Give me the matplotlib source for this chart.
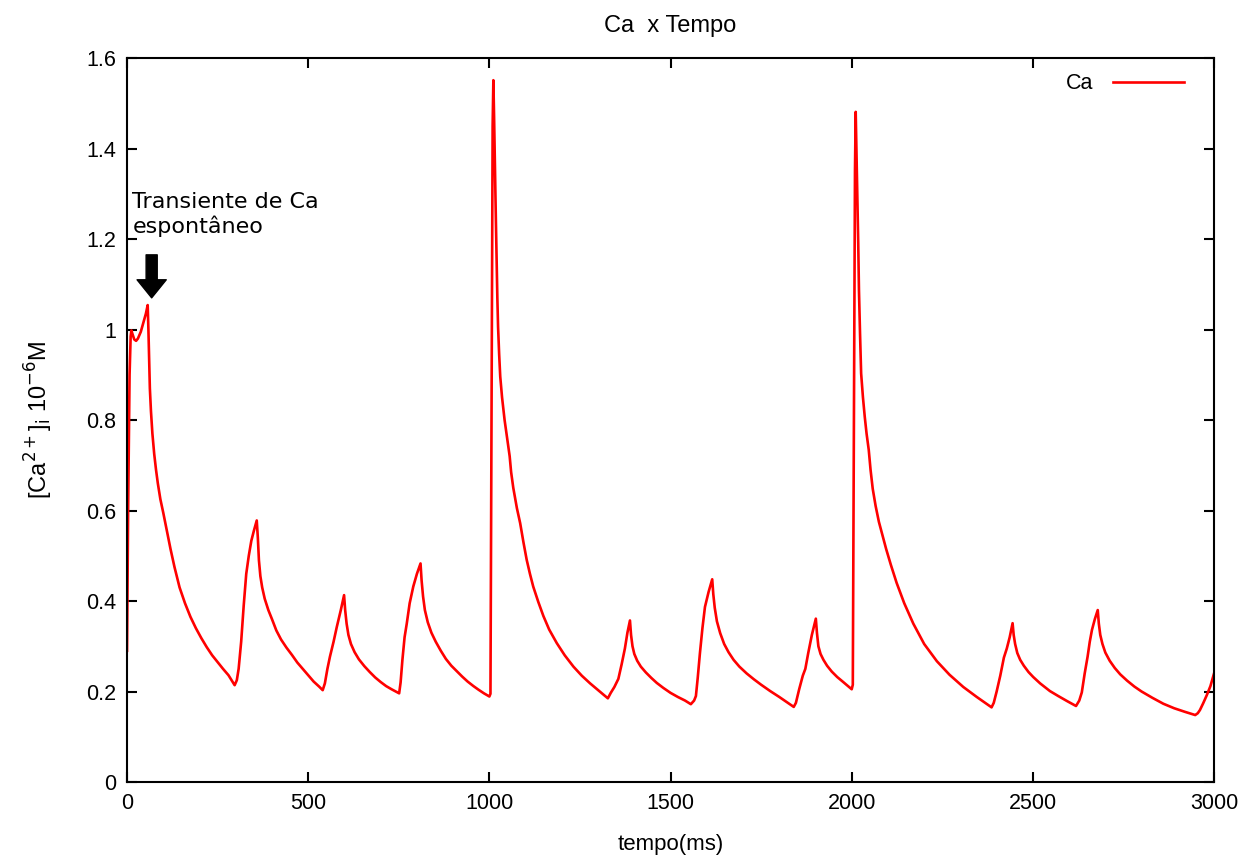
import numpy as np
import matplotlib.pyplot as plt
from matplotlib.ticker import FuncFormatter

# Ca transient (time in ms, [Ca2+]i in 10^-6 M)
tempo = [
    0, 3, 7, 10, 12, 15, 20, 25, 30, 38, 45, 52, 57,
    59, 61, 63, 66, 70, 75, 80, 85, 92, 100, 110, 120, 131, 145, 160, 175,
    190, 205, 220, 235, 250, 265, 280, 297,
    303, 308, 315, 322, 329, 336, 343, 350, 358,
    361, 364, 368, 373, 380, 390, 400, 412, 425, 440, 455, 470, 485, 500,
    515, 530, 540,
    546, 553, 560, 570, 579, 590, 599,
    602, 606, 611, 618, 628, 640, 655, 670, 685, 700, 715, 730, 751,
    755, 760, 766, 772, 780, 790, 800, 810,
    813, 817, 822, 830, 840, 852, 866, 880, 895, 910, 925, 940, 956, 970,
    985, 1000,
    1003, 1006, 1009, 1011, 1013, 1015, 1018, 1020, 1022, 1024, 1027, 1030,
    1035, 1042, 1050, 1056, 1060, 1066, 1076, 1085, 1094, 1103, 1112, 1121,
    1135, 1149, 1165, 1186, 1208, 1232, 1255, 1278, 1300, 1315, 1327,
    1335, 1345, 1356, 1365, 1374, 1381, 1388,
    1391, 1395, 1400, 1408, 1418, 1432, 1447, 1462, 1480, 1500, 1520, 1540,
    1556,
    1565, 1570, 1575, 1581, 1588, 1595, 1605, 1615,
    1618, 1622, 1628, 1637, 1648, 1660, 1674, 1690, 1710, 1730, 1750, 1775,
    1800, 1820, 1840,
    1846, 1855, 1865, 1872, 1880, 1890, 1901,
    1904, 1908, 1914, 1922, 1932, 1945, 1960, 1975, 1988, 2000,
    2003, 2006, 2009, 2011, 2013, 2015, 2018, 2020, 2023, 2026, 2031, 2036,
    2041, 2047, 2052, 2058, 2066, 2075, 2085, 2095, 2108, 2124, 2145, 2170,
    2200, 2235, 2270, 2308, 2345, 2386,
    2392, 2400, 2410, 2420, 2428, 2436, 2444,
    2447, 2451, 2457, 2465, 2475, 2488, 2501, 2520, 2547, 2570, 2594, 2619,
    2628, 2635, 2643, 2651, 2657, 2663, 2671, 2679,
    2682, 2686, 2692, 2700, 2712, 2726, 2741, 2760, 2780, 2800, 2830, 2860,
    2890, 2920, 2948,
    2955, 2961, 2970, 2980, 2990, 3000,
]
ca = [
    0.29, 0.60, 0.90, 0.985, 0.998, 0.99, 0.978, 0.975, 0.98, 0.995, 1.015,
    1.035, 1.054,
    1.00, 0.93, 0.87, 0.82, 0.77, 0.725, 0.69, 0.66, 0.625, 0.595, 0.555,
    0.515, 0.475, 0.43, 0.395, 0.365, 0.34, 0.318, 0.298, 0.28, 0.265, 0.25,
    0.236, 0.214,
    0.225, 0.25, 0.31, 0.39, 0.46, 0.50, 0.533, 0.555, 0.578,
    0.54, 0.49, 0.455, 0.43, 0.405, 0.38, 0.36, 0.335, 0.315, 0.297, 0.281,
    0.264, 0.25, 0.236, 0.222, 0.211, 0.203,
    0.218, 0.25, 0.277, 0.31, 0.343, 0.38, 0.413,
    0.38, 0.35, 0.325, 0.305, 0.287, 0.271, 0.256, 0.243, 0.231, 0.221,
    0.212, 0.205, 0.196,
    0.22, 0.27, 0.32, 0.35, 0.395, 0.432, 0.46, 0.483,
    0.445, 0.41, 0.38, 0.353, 0.33, 0.31, 0.29, 0.272, 0.257, 0.245, 0.233,
    0.222, 0.212, 0.204, 0.196, 0.189,
    0.195, 0.8, 1.45, 1.551, 1.47, 1.375, 1.24, 1.154, 1.07, 1.006, 0.945,
    0.896, 0.85, 0.80, 0.755, 0.72, 0.685, 0.65, 0.605, 0.572, 0.53, 0.491,
    0.46, 0.432, 0.398, 0.367, 0.337, 0.307, 0.28, 0.255, 0.235, 0.218,
    0.203, 0.193, 0.185,
    0.197, 0.21, 0.228, 0.26, 0.295, 0.33, 0.357,
    0.325, 0.30, 0.283, 0.268, 0.255, 0.242, 0.23, 0.219, 0.208, 0.197,
    0.188, 0.18, 0.172,
    0.18, 0.19, 0.23, 0.284, 0.34, 0.387, 0.42, 0.448,
    0.415, 0.385, 0.355, 0.329, 0.305, 0.287, 0.27, 0.255, 0.24, 0.227,
    0.215, 0.201, 0.188, 0.177, 0.166,
    0.175, 0.205, 0.235, 0.25, 0.285, 0.325, 0.361,
    0.33, 0.30, 0.283, 0.27, 0.257, 0.244, 0.232, 0.222, 0.213, 0.205,
    0.215, 0.8, 1.35, 1.481, 1.40, 1.308, 1.19, 1.087, 0.99, 0.903, 0.85,
    0.807, 0.77, 0.734, 0.69, 0.648, 0.61, 0.575, 0.545, 0.515, 0.48, 0.44,
    0.395, 0.35, 0.305, 0.267, 0.237, 0.21, 0.188, 0.165,
    0.175, 0.20, 0.235, 0.275, 0.295, 0.32, 0.351,
    0.325, 0.305, 0.285, 0.27, 0.257, 0.243, 0.232, 0.218, 0.201, 0.19,
    0.179, 0.168,
    0.18, 0.198, 0.24, 0.277, 0.31, 0.336, 0.36, 0.38,
    0.35, 0.325, 0.305, 0.286, 0.268, 0.252, 0.238, 0.224, 0.211, 0.20,
    0.186, 0.173, 0.163, 0.155, 0.148,
    0.152, 0.159, 0.174, 0.192, 0.212, 0.24,
]

xticks = [0, 500, 1000, 1500, 2000, 2500, 3000]
yticks = [0, 0.2, 0.4, 0.6, 0.8, 1.0, 1.2, 1.4, 1.6]

plt.rcParams['font.family'] = ['Liberation Sans', 'DejaVu Sans']

fig = plt.figure(figsize=(12.59, 8.57), dpi=100)
ax = fig.add_axes([0.1009, 0.0875, 0.8634, 0.8448])

ax.plot(tempo, ca, color='red', linewidth=1.9, label='Ca')

ax.set_xlim(0, 3000)
ax.set_ylim(0, 1.6)
ax.set_xticks(xticks)
ax.set_yticks(yticks)
ax.yaxis.set_major_formatter(FuncFormatter(lambda v, p: '%g' % round(v, 2)))
ax.tick_params(direction='in', length=7, width=1.5, labelsize=15.5,
               top=True, right=True, pad=8)
for s in ax.spines.values():
    s.set_linewidth(1.5)

ax.set_title('Ca  x Tempo', fontsize=17, pad=19)
ax.set_xlabel('tempo(ms)', fontsize=16, labelpad=14)
ax.set_ylabel(r'[Ca$^{2+}$]$_{\mathrm{i}}$ 10$^{-6}$M', fontsize=17, labelpad=22)

ax.legend(loc='upper right', bbox_to_anchor=(0.99, 1.006), frameon=False,
          markerfirst=False, handlelength=3.3, handletextpad=0.9,
          fontsize=15.5)

# note + arrow for the spontaneous transient
ax.text(15, 1.305, 'Transiente de Ca\nespontâneo', family='DejaVu Sans',
        fontsize=16, va='top', ha='left', linespacing=1.2)
ax.annotate('', xy=(68, 1.07), xytext=(68, 1.165),
            arrowprops=dict(facecolor='black', edgecolor='black',
                            width=8, headwidth=21, headlength=13))

fig.savefig('out.png', dpi=100)
